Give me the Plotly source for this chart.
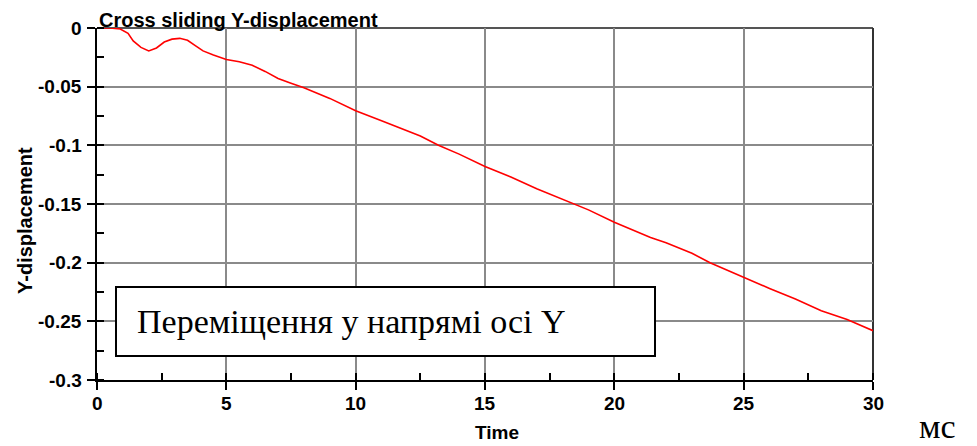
import plotly.graph_objects as go

# Data
time = [0, 0.5, 0.9, 1.2, 1.4, 1.7, 2.0, 2.3, 2.6, 2.9, 3.2, 3.5, 3.8, 4.1, 4.5,
        5.0, 5.5, 6.0, 6.5, 7.0, 7.5, 8.0, 9.0, 10.0, 11.0, 12.0, 12.5, 13.2, 14.0,
        15.0, 16.0, 17.0, 18.4, 19.0, 20.0, 21.4, 22.0, 23.0, 23.7, 25.0, 26.0,
        27.0, 28.0, 29.0, 30.0]
y_disp = [0, 0, -0.0008, -0.0045, -0.011, -0.0165, -0.0195, -0.017, -0.012, -0.0095,
          -0.0088, -0.0105, -0.015, -0.0195, -0.023, -0.0268, -0.0288, -0.0318,
          -0.037, -0.043, -0.047, -0.051, -0.060, -0.0705, -0.079, -0.088, -0.092,
          -0.100, -0.1075, -0.118, -0.127, -0.137, -0.150, -0.155, -0.1655, -0.1785,
          -0.183, -0.192, -0.200, -0.2128, -0.222, -0.231, -0.241, -0.2485, -0.258]

x_ticks = [0, 5, 10, 15, 20, 25, 30]
x_tick_labels = ["0", "5", "10", "15", "20", "25", "30"]
y_ticks = [0, -0.05, -0.1, -0.15, -0.2, -0.25, -0.3]
y_tick_labels = ["0", "-0.05", "-0.1", "-0.15", "-0.2", "-0.25", "-0.3"]

title_text = "Cross sliding Y-displacement"
x_title = "Time"
y_title = "Y-displacement"
box_text = "Переміщення у напрямі осі Y"
unit_text = "мс"

W, H = 977, 446
L, R, T, B = 97, 104, 28, 66
pw, ph = W - L - R, H - T - B

def px_x(p):
    return (p - L) / pw

def px_y(p):
    return (H - B - p) / ph

SANS = "Liberation Sans"
SERIF = "Liberation Serif"
tickfont = dict(family=SANS, size=19, color="black")

fig = go.Figure()
fig.add_trace(go.Scatter(x=time, y=y_disp, mode="lines", cliponaxis=False,
                         line=dict(color="#ff0000", width=1.6), hoverinfo="skip"))

fig.update_layout(
    width=W, height=H,
    margin=dict(l=L, r=R, t=T, b=B),
    paper_bgcolor="white", plot_bgcolor="white",
    showlegend=False,
    font=dict(family=SANS, size=19, color="black"),
)
fig.update_xaxes(
    range=[0, 30], tickmode="array", tickvals=x_ticks, showticklabels=False,
    showline=True, linecolor="black", linewidth=2,
    showgrid=True, gridcolor="#8a8a8a", gridwidth=2,
    zeroline=False,
    ticks="outside", ticklen=8, tickwidth=2, tickcolor="black",
    minor=dict(dtick=2.5, tick0=0, ticks="inside", ticklen=7, tickwidth=2,
               tickcolor="black", showgrid=False),
)
fig.update_yaxes(
    range=[-0.3, 0], tickmode="array", tickvals=y_ticks, showticklabels=False,
    showline=True, linecolor="black", linewidth=2,
    showgrid=True, gridcolor="#8a8a8a", gridwidth=2,
    zeroline=False,
    ticks="outside", ticklen=8, tickwidth=2, tickcolor="black",
    minor=dict(dtick=0.025, tick0=0, ticks="inside", ticklen=7, tickwidth=2,
               tickcolor="black", showgrid=False),
)

# bold tick labels placed on the axes' own scales
for v, s in zip(x_ticks, x_tick_labels):
    fig.add_annotation(text="<b>%s</b>" % s, xref="x", yref="paper", x=v, y=0,
                       xanchor="center", yanchor="top", yshift=-11, showarrow=False,
                       font=tickfont)
for v, s in zip(y_ticks, y_tick_labels):
    fig.add_annotation(text="<b>%s</b>" % s, xref="paper", yref="y", x=0, y=v,
                       xanchor="right", yanchor="middle", xshift=-13, showarrow=False,
                       font=tickfont)

# top and right frame lines (under the trace)
fig.add_shape(type="line", xref="paper", yref="paper", x0=0, x1=1, y0=1, y1=1,
              line=dict(color="#555555", width=2), layer="between")
fig.add_shape(type="line", xref="paper", yref="paper", x0=1, x1=1, y0=0, y1=1,
              line=dict(color="#333333", width=2), layer="between")

# label box
fig.add_shape(type="rect", xref="paper", yref="paper",
              x0=px_x(116), x1=px_x(655), y0=px_y(356), y1=px_y(287),
              line=dict(color="black", width=2), fillcolor="white", layer="above")
fig.add_annotation(text=box_text, xref="paper", yref="paper",
                   x=px_x(135), y=px_y(321), xanchor="left", yanchor="middle",
                   showarrow=False,
                   font=dict(family=SERIF, size=34, color="black", weight="normal"))

# titles
fig.add_annotation(text="<b>%s</b>" % title_text, xref="paper", yref="paper", x=0, y=1,
                   xanchor="left", yanchor="bottom", yshift=-5, showarrow=False,
                   font=dict(family=SANS, size=20, color="black"))
fig.add_annotation(text="<b>%s</b>" % x_title, xref="paper", yref="paper",
                   x=px_x(497), y=px_y(432),
                   xanchor="center", yanchor="middle", showarrow=False,
                   font=dict(family=SANS, size=19, color="black"))
fig.add_annotation(text="<b>%s</b>" % y_title, xref="paper", yref="paper",
                   x=px_x(25), y=px_y(221),
                   xanchor="center", yanchor="middle", textangle=-90, showarrow=False,
                   font=dict(family=SANS, size=20, color="black"))
fig.add_annotation(text=unit_text, xref="paper", yref="paper", x=px_x(938), y=px_y(426),
                   xanchor="center", yanchor="middle", showarrow=False,
                   font=dict(family=SERIF, size=34, color="black", weight="normal"))

fig.write_html("out.html")
